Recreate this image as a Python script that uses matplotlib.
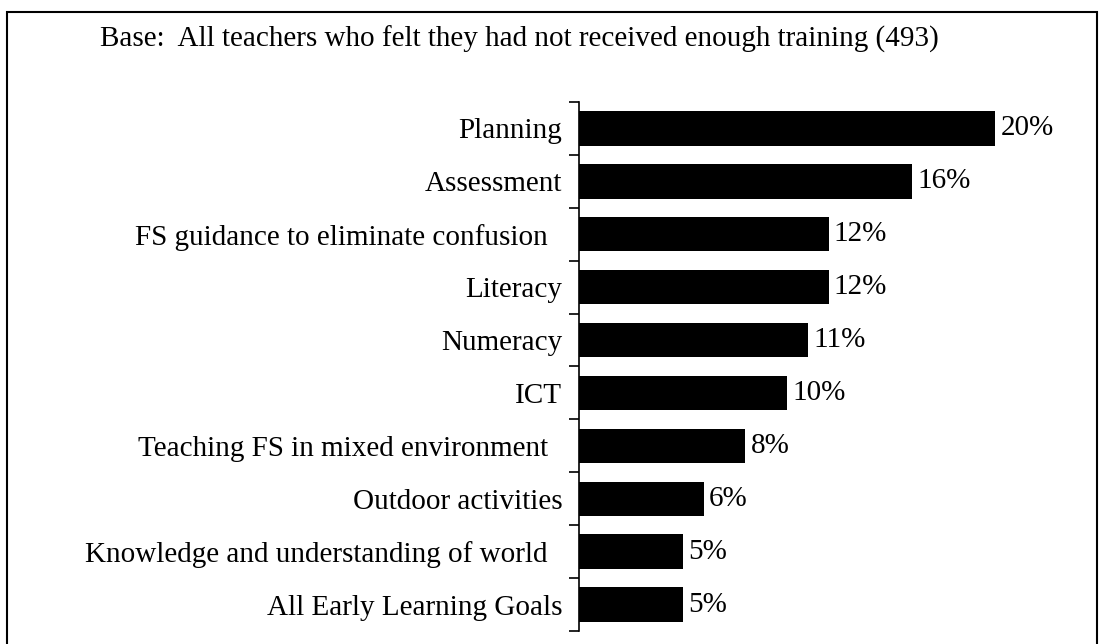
import matplotlib.pyplot as plt
import matplotlib.patches as mpatches

categories = ['Planning', 'Assessment', 'FS guidance to eliminate confusion  ',
              'Literacy', 'Numeracy', 'ICT', 'Teaching FS in mixed environment  ',
              'Outdoor activities', 'Knowledge and understanding of world  ',
              'All Early Learning Goals']
values = [20, 16, 12, 12, 11, 10, 8, 6, 5, 5]
title = 'Base:  All teachers who felt they had not received enough training (493)'

plt.rcParams['font.family'] = ['Liberation Serif', 'DejaVu Serif']
fs = 21

fig = plt.figure(figsize=(11.02, 6.44), dpi=100)
ax = fig.add_axes([579 / 1102, 1 - 631 / 644, (1097 - 579) / 1102, (631 - 102) / 644])

ypos = list(range(len(categories)))
ax.barh(ypos, values, height=0.65, color='black')
ax.set_ylim(len(categories) - 0.5, -0.5)
ax.set_xlim(0, 24.9)

for y, v in zip(ypos, values):
    ax.text(v + 0.25, y, '%d%%' % v, va='center', ha='left', fontsize=fs)

# labels centred on bars, ticks at boundaries
ax.set_yticks(ypos)
ax.set_yticklabels(categories, fontsize=fs)
ax.tick_params(axis='y', which='major', length=0, pad=12)
ax.set_yticks([i - 0.5 for i in range(len(categories) + 1)], minor=True)
ax.tick_params(axis='y', which='minor', length=7, width=1.2, direction='out')
ax.set_xticks([])
for s in ['top', 'right', 'bottom']:
    ax.spines[s].set_visible(False)
ax.spines['left'].set_linewidth(1.2)

fig.text(100 / 1102, 1 - 39 / 644, title, fontsize=fs, va='center', ha='left')

border = mpatches.Rectangle((7 / 1102, -0.05), (1097 - 7) / 1102, 1.05 - 12 / 644,
                            transform=fig.transFigure, fill=False,
                            edgecolor='black', linewidth=1.5, clip_on=False)
fig.patches.append(border)

fig.savefig('out.png', dpi=100)
